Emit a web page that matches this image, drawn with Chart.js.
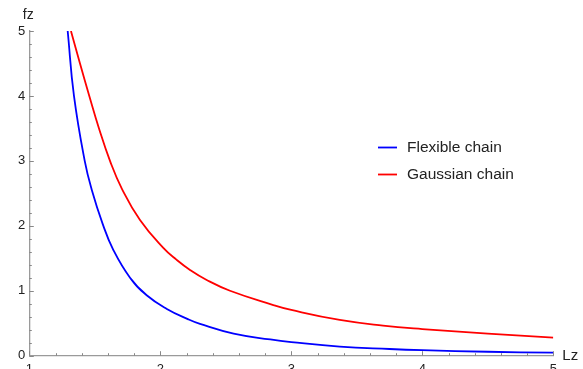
<!DOCTYPE html>
<html>
<head>
<meta charset="utf-8">
<script src="https://cdn.jsdelivr.net/npm/chart.js@4/dist/chart.umd.min.js"></script>
<style>
  html, body { margin: 0; padding: 0; background: #fff; overflow: hidden; }
  #wrap { width: 583px; height: 380px; }
</style>
</head>
<body>
<div id="wrap"><canvas id="chart" width="583" height="380"></canvas></div>
<script>
// values
const flexX  = [1.293, 1.341, 1.423, 1.476, 1.56, 1.641, 1.769, 1.896, 2.05, 2.214, 2.303, 2.56, 2.84, 3.00, 3.37, 3.75, 4.00, 4.50, 5.00];
const flexY  = [5.00, 4.00, 3.00, 2.56, 2.03, 1.63, 1.20, 0.93, 0.72, 0.56, 0.49, 0.34, 0.25, 0.21, 0.14, 0.103, 0.085, 0.061, 0.046];
const gaussX = [1.318, 1.387, 1.458, 1.532, 1.616, 1.707, 1.845, 2.023, 2.125, 2.227, 2.354, 2.532, 2.863, 3.00, 3.37, 3.70, 4.00, 4.50, 5.00];
const gaussY = [5.00, 4.50, 4.00, 3.50, 3.00, 2.57, 2.09, 1.66, 1.475, 1.32, 1.166, 1.00, 0.78, 0.704, 0.55, 0.463, 0.41, 0.34, 0.278];

const seriesNames  = ['Flexible chain', 'Gaussian chain'];
const seriesColors = ['#0000ff', '#ff0000'];
const xTicks = [1, 2, 3, 4, 5];
const yTicks = [0, 1, 2, 3, 4, 5];
const xName = 'Lz';
const yName = 'fz';

const FONT = "'Liberation Sans', Arial, Helvetica, sans-serif";
const AXIS = '#9a9a9a';
const TXT = '#222';

const toPoints = (xs, ys) => xs.map((x, i) => ({ x, y: ys[i] }));

// inward major/minor ticks, axis names, legend
const decor = {
  id: 'decor',
  afterDraw(chart) {
    const { ctx, chartArea: a, scales: { x, y } } = chart;
    ctx.save();
    ctx.strokeStyle = '#888';
    ctx.lineWidth = 1;
    for (let i = 0; i <= 20; i++) {
      const px = Math.round(x.getPixelForValue(1 + i * 0.2)) + 0.5;
      const len = i % 5 === 0 ? 4.5 : 2.5;
      ctx.beginPath(); ctx.moveTo(px, a.bottom); ctx.lineTo(px, a.bottom - len); ctx.stroke();
    }
    for (let i = 0; i <= 25; i++) {
      const py = Math.round(y.getPixelForValue(i * 0.2)) + 0.5;
      const len = i % 5 === 0 ? 4.5 : 2.5;
      ctx.beginPath(); ctx.moveTo(a.left, py); ctx.lineTo(a.left + len, py); ctx.stroke();
    }

    ctx.fillStyle = TXT;
    ctx.textBaseline = 'middle';
    ctx.font = `14px ${FONT}`;
    ctx.textAlign = 'center';
    ctx.fillText(yName, a.left - 1, a.top - 16);
    ctx.textAlign = 'left';
    ctx.font = `15px ${FONT}`;
    ctx.fillText(xName, a.right + 9, a.bottom);

    // legend
    ctx.font = `15.5px ${FONT}`;
    chart.data.datasets.forEach((ds, i) => {
      const ly = 147.5 + i * 27;
      ctx.strokeStyle = ds.borderColor;
      ctx.lineWidth = 1.8;
      ctx.beginPath(); ctx.moveTo(378, ly); ctx.lineTo(397, ly); ctx.stroke();
      ctx.fillStyle = TXT;
      ctx.fillText(ds.label, 407, ly);
    });
    ctx.restore();
  }
};

new Chart(document.getElementById('chart'), {
  type: 'line',
  data: {
    datasets: [
      { label: seriesNames[0], data: toPoints(flexX, flexY), borderColor: seriesColors[0], borderWidth: 1.8, pointRadius: 0, tension: 0.45 },
      { label: seriesNames[1], data: toPoints(gaussX, gaussY), borderColor: seriesColors[1], borderWidth: 1.8, pointRadius: 0, tension: 0.45 },
    ]
  },
  options: {
    responsive: false,
    animation: false,
    devicePixelRatio: 1,
    layout: { padding: { top: 31, right: 29.7, left: 0, bottom: 0 } },
    plugins: { legend: { display: false }, tooltip: { enabled: false } },
    scales: {
      x: {
        type: 'linear', min: 1, max: 5,
        afterBuildTicks: s => { s.ticks = xTicks.map(v => ({ value: v })); },
        afterFit: s => { s.height = 24.3; },
        grid: { drawOnChartArea: false, drawTicks: false },
        border: { color: AXIS, width: 1.3 },
        ticks: { color: TXT, padding: 6, maxRotation: 0, autoSkip: false, font: { family: FONT, size: 13 } },
      },
      y: {
        type: 'linear', min: 0, max: 5,
        afterBuildTicks: s => { s.ticks = yTicks.map(v => ({ value: v })); },
        afterFit: s => { s.width = 29.3; },
        grid: { drawOnChartArea: false, drawTicks: false },
        border: { color: AXIS, width: 1.3 },
        ticks: { color: TXT, padding: 4, font: { family: FONT, size: 13 } },
      }
    }
  },
  plugins: [decor]
});
</script>
</body>
</html>
